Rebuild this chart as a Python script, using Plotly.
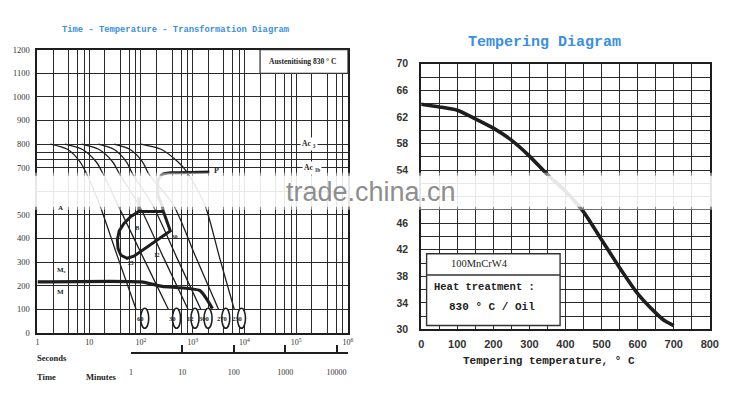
import numpy as np
import plotly.graph_objects as go

# ---------------- TTT diagram (time in seconds, temperature in °C) ----------------
c1_time = [1.77, 3.79, 6.65, 8.93, 15.9, 35.7, 80.4]
c2_time = [3.40, 7.29, 13.6, 18.5, 35.7, 110, 338]
c3_time = [7.18, 15.2, 28.3, 38.4, 90.8, 271, 811]
c4_time = [15.1, 29.9, 52.4, 68.9, 167, 490, 1432]
c5_time = [30.4, 60.7, 107, 141, 421, 1151, 3148]
c6_time = [99, 245, 516, 743, 1706, 3289, 6339]
cool_temp = [800, 778, 725, 674, 543, 320, 100]
c6_temp = [800, 778, 725, 686, 543, 320, 100]

ms_time = [1, 100, 257, 1380, 2400]
ms_temp = [216, 216, 197, 179, 103]

p_time = [2100, 370, 260, 213, 213, 260, 270]
p_temp = [682, 678, 672, 645, 584, 534, 514]

bain_time = [271, 369, 238, 153, 99, 73, 54, 41, 36, 35, 38, 47, 64, 91, 271]
bain_temp = [514, 432, 403, 374, 345, 325, 316, 329, 358, 395, 432, 464, 493, 514, 514]
bain_rise_time = [91, 91]
bain_rise_temp = [514, 575]

circle_time = [99, 407, 925, 1656, 3640, 7330]
circle_temp = 62
circle_labels = ["60", "30", "12", "300", "270", "230"]

ttt_temp_ticks = list(range(0, 1300, 100))
ttt_temp_text = ["" if v == 600 else str(v) for v in ttt_temp_ticks]
ttt_time_ticks = [1, 10, 100, 1000, 10000, 100000, 1000000]
ttt_time_text = ["1", "10", "10<sup>2</sup>", "10<sup>3</sup>", "10<sup>4</sup>", "10<sup>5</sup>", "10<sup>6</sup>"]
ttt_minor_time = [m * 10 ** k for k in range(6) for m in (2, 4, 6, 8)]
ac_lines = [735, 765]
minute_ticks = [1, 10, 100, 1000, 10000]
minute_text = ["1", "10", "100", "1000", "10000"]

# ---------------- Tempering diagram ----------------
temper_temp = [0, 50, 100, 150, 200, 250, 300, 350, 400, 450, 500, 550, 600, 650, 675, 700]
temper_hrc = [63.9, 63.5, 63.0, 61.7, 60.3, 58.5, 56.1, 53.3, 50.8, 47.7, 43.5, 39.3, 35.4, 32.5, 31.3, 30.6]
hrc_ticks = [30, 34, 38, 42, 46, 50, 54, 58, 62, 66, 70]
hrc_text = ["" if v == 50 else str(v) for v in hrc_ticks]
temp_ticks = [0, 100, 200, 300, 400, 500, 600, 700, 800]

W, H = 750, 400
def px(x):
    return x / W
def py(y):
    return 1 - y / H

GRID = "#2a2a2a"
INK = "#1e1e1e"
BLUE = "#3b8fdc"

fig = go.Figure()

for t, T in [(c1_time, cool_temp), (c2_time, cool_temp), (c3_time, cool_temp),
             (c4_time, cool_temp), (c5_time, cool_temp), (c6_time, c6_temp)]:
    fig.add_trace(go.Scatter(x=t, y=T, mode="lines", xaxis="x", yaxis="y",
                             line=dict(color=INK, width=1.3, shape="spline", smoothing=0.8),
                             hoverinfo="skip", showlegend=False))

fig.add_trace(go.Scatter(x=ms_time, y=ms_temp, mode="lines", xaxis="x", yaxis="y",
                         line=dict(color=INK, width=3.2, shape="spline", smoothing=0.5),
                         hoverinfo="skip", showlegend=False))
fig.add_trace(go.Scatter(x=p_time, y=p_temp, mode="lines", xaxis="x", yaxis="y",
                         line=dict(color=INK, width=3, shape="spline", smoothing=0.4),
                         hoverinfo="skip", showlegend=False))
fig.add_trace(go.Scatter(x=bain_time, y=bain_temp, mode="lines", xaxis="x", yaxis="y",
                         line=dict(color=INK, width=3),
                         hoverinfo="skip", showlegend=False))
fig.add_trace(go.Scatter(x=bain_rise_time, y=bain_rise_temp, mode="lines", xaxis="x", yaxis="y",
                         line=dict(color=INK, width=3),
                         hoverinfo="skip", showlegend=False))

# invisible trace to carry the minutes axis
fig.add_trace(go.Scatter(x=[1], y=[0], mode="markers", xaxis="x3", yaxis="y3",
                         marker=dict(opacity=0), hoverinfo="skip", showlegend=False))

# tempering curve
fig.add_trace(go.Scatter(x=temper_temp, y=temper_hrc, mode="lines", xaxis="x2", yaxis="y2",
                         line=dict(color=INK, width=3.6, shape="spline", smoothing=0.6),
                         hoverinfo="skip", showlegend=False))

shapes = []
shapes.append(dict(type="rect", xref="x", yref="y", x0=2e4, x1=1e6, y0=1100, y1=1200,
                   fillcolor="white", line=dict(color=GRID, width=1.2), layer="above"))
for t in circle_time:
    shapes.append(dict(type="circle", xref="x", yref="y", xsizemode="pixel", ysizemode="pixel",
                       xanchor=t, yanchor=circle_temp, x0=-8, x1=8, y0=-10, y1=10,
                       fillcolor="white", line=dict(color=INK, width=1.6), layer="above"))
shapes.append(dict(type="rect", xref="x2", yref="y2", x0=15, x1=385, y0=30.6, y1=41.4,
                   fillcolor="white", line=dict(color="#333", width=1.4), layer="above"))
shapes.append(dict(type="line", xref="x2", yref="y2", x0=15, x1=385, y0=38.2, y1=38.2,
                   line=dict(color="#333", width=1.4), layer="above"))
# watermark band
shapes.append(dict(type="rect", xref="paper", yref="paper", x0=0, x1=px(726), y0=py(210), y1=py(172),
                   fillcolor="white", opacity=0.45, line=dict(width=0), layer="above"))
shapes.append(dict(type="rect", xref="paper", yref="paper", x0=0, x1=px(724), y0=py(207), y1=py(175),
                   fillcolor="white", opacity=0.8, line=dict(width=0), layer="above"))

ann = []
def lbl(x, y, text, size=8, bold=True, family="Liberation Serif", bg=None, xanchor="center", color=INK):
    d = dict(x=np.log10(x), y=y, xref="x", yref="y", text=("<b>%s</b>" % text) if bold else text,
             showarrow=False, xanchor=xanchor, yanchor="middle",
             font=dict(family=family, size=size, color=color))
    if bg:
        d.update(bgcolor=bg, borderpad=1)
    ann.append(d)

lbl(1.3e5, 1151, "Austenitising 830 ° C", size=7.5)
lbl(1.77e5, 800, "Ac <sub>3</sub>", size=7.5, bg="white")
lbl(2.0e5, 700, "Ac <sub>1b</sub>", size=7.5, bg="white")
lbl(2400, 690, "P", size=8, xanchor="left")
lbl(2.75, 530, "A", size=7)
lbl(2.9, 268, "M<sub>s</sub>", size=7)
lbl(2.75, 173, "M", size=7)
lbl(87, 448, "B", size=6.5)
lbl(457, 408, "30", size=5.5)
lbl(204, 330, "12", size=5.5)
lbl(65, 296, "25", size=5.5)
for t, s in zip(circle_time, circle_labels):
    lbl(t, circle_temp, s, size=6.5)

def ptext(x, y, text, size, family, color=INK, xanchor="center", bold=False):
    ann.append(dict(x=px(x), y=py(y), xref="paper", yref="paper",
                    text=("<b>%s</b>" % text) if bold else text, showarrow=False,
                    xanchor=xanchor, yanchor="middle",
                    font=dict(family=family, size=size, color=color)))

ptext(175, 25, "Time - Temperature - Transformation Diagram", 8.8, "Liberation Mono", BLUE, bold=True)
ptext(550, 38, "Tempering Diagram", 15, "Liberation Mono", BLUE, bold=True)
ptext(555, 366, "Tempering temperature, ° C", 11, "Liberation Mono", "#222", bold=True)
ptext(33, 363, "Seconds", 8.5, "Liberation Serif", "#222", xanchor="left", bold=True)
ptext(33, 382, "Time", 8.5, "Liberation Serif", "#222", xanchor="left", bold=True)
ptext(82, 382, "Minutes", 8.5, "Liberation Serif", "#222", xanchor="left", bold=True)
ptext(484, 265, "100MnCrW4", 10.5, "Liberation Serif", "#222", bold=False)
ptext(489, 290, "Heat treatment :", 10.5, "Liberation Mono", "#222", bold=True)
ptext(497, 310, "830 ° C / Oil", 11, "Liberation Mono", "#222", bold=True)
ptext(374, 192, "trade.china.cn", 27, "Liberation Sans", "#8e8e8e")

axis_common = dict(showline=True, linecolor=INK, linewidth=2, mirror=True, zeroline=False,
                   showgrid=True, gridcolor=GRID, gridwidth=1.2, ticks="")

fig.update_layout(
    width=W, height=H, margin=dict(l=0, r=0, t=0, b=0),
    paper_bgcolor="white", plot_bgcolor="white", showlegend=False,
    shapes=shapes, annotations=ann,
    xaxis=dict(type="log", range=[0, 6], domain=[px(35), px(350.6)], anchor="y",
               tickmode="array", tickvals=ttt_time_ticks, ticktext=ttt_time_text,
               tickfont=dict(family="Liberation Serif", size=8, color="#333"),
               minor=dict(tickmode="array", tickvals=ttt_minor_time, showgrid=True,
                          gridcolor=GRID, gridwidth=1.2, ticks=""),
               ticklabelstandoff=1, **axis_common),
    yaxis=dict(range=[0, 1200], domain=[py(337), py(45)], anchor="x",
               tickmode="array", tickvals=ttt_temp_ticks, ticktext=ttt_temp_text,
               tickfont=dict(family="Liberation Serif", size=8.5, color="#333"),
               minor=dict(tickmode="array", tickvals=ac_lines, showgrid=True,
                          gridcolor=GRID, gridwidth=1.2, ticks=""),
               ticklabelstandoff=4, **axis_common),
    xaxis2=dict(range=[0, 800], domain=[px(425), px(718.3)], anchor="y2",
                tickmode="array", tickvals=temp_ticks,
                tickfont=dict(family="Liberation Sans", size=11, color="#333", weight="bold"),
                minor=dict(tickmode="linear", tick0=0, dtick=50, showgrid=True,
                           gridcolor=GRID, gridwidth=1.2, ticks=""),
                ticklabelstandoff=3, **axis_common),
    yaxis2=dict(range=[30, 70], domain=[py(333.5), py(59.5)], anchor="x2",
                tickmode="array", tickvals=hrc_ticks, ticktext=hrc_text,
                tickfont=dict(family="Liberation Sans", size=10.5, color="#333", weight="bold"),
                minor=dict(tickmode="linear", tick0=30, dtick=2, showgrid=True,
                           gridcolor=GRID, gridwidth=1.2, ticks=""),
                ticklabelstandoff=9, **axis_common),
    xaxis3=dict(type="log", range=[0, np.log10(1e6 / 60)], domain=[px(130), px(350.6)],
                anchor="free", position=py(358), showline=True, linecolor=INK, linewidth=1.6,
                showgrid=False, zeroline=False, ticks="inside", ticklen=7, tickwidth=1.6,
                tickcolor=INK, tickmode="array", tickvals=minute_ticks, ticktext=minute_text,
                tickfont=dict(family="Liberation Serif", size=8, color="#333"),
                ticklabelstandoff=11),
    yaxis3=dict(domain=[0, 0.02], anchor="x3", visible=False, range=[-1, 1]),
)

fig.write_html("out.html", config={"displayModeBar": False},
               post_script="document.body.style.margin='0';document.body.style.overflow='hidden';")
